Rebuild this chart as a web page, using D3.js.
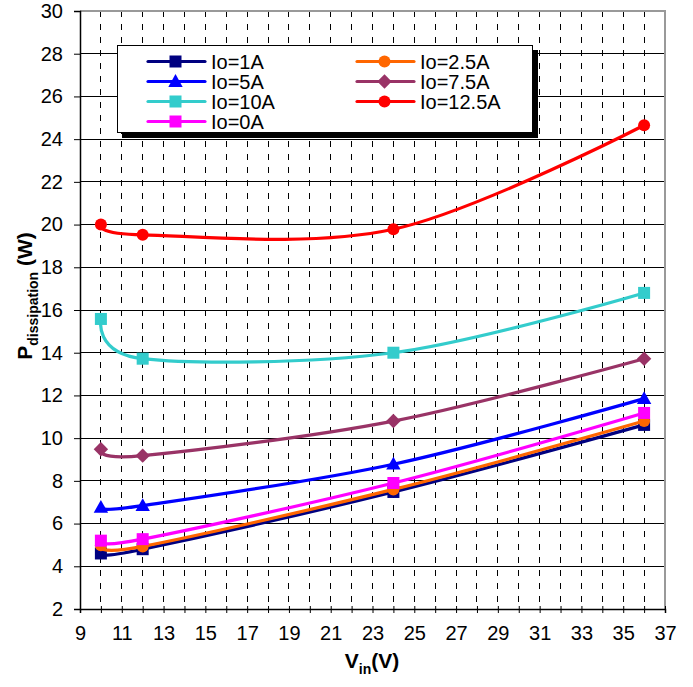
<!DOCTYPE html>
<html><head><meta charset="utf-8">
<script src="https://cdn.jsdelivr.net/npm/d3@7"></script>
<style>body{margin:0;background:#fff}svg{display:block}text{font-family:"Liberation Sans",Arial,sans-serif}</style>
</head><body>
<script>
const vin = [10, 12, 24, 36];
const io1A   = [4.6, 4.8, 7.48, 10.62];
const io2_5A = [4.98, 4.93, 7.6, 10.8];
const io5A   = [6.76, 6.84, 8.78, 11.85];
const io7_5A = [9.48, 9.18, 10.8, 13.72];
const io10A  = [15.58, 13.72, 14.0, 16.8];
const io12_5A= [20.0, 19.52, 19.78, 24.65];
const io0A   = [5.2, 5.27, 7.9, 11.18];
const seriesNames = ["Io=1A","Io=2.5A","Io=5A","Io=7.5A","Io=10A","Io=12.5A","Io=0A"];
const seriesColors = ["#000080","#FF6600","#0000FF","#993366","#33CCCC","#FF0000","#FF00FF"];
const seriesMarkers = ["square","circle","triangle","diamond","square","circle","square"];
const seriesValues = [io1A, io2_5A, io5A, io7_5A, io10A, io12_5A, io0A];
const xTicks = d3.range(9, 38, 2);
const xMinor = d3.range(9, 38, 1);
const yTicks = d3.range(2, 31, 2);

const W = 693, H = 687;
const svg = d3.select("body").append("svg").attr("width", W).attr("height", H);
const x = d3.scaleLinear().domain([9, 37]).range([80, 665]);
const y = d3.scaleLinear().domain([2, 30]).range([609, 11]);

// vertical dashed grid
svg.append("g").selectAll("line").data(xMinor.filter(v => v > 9 && v < 37)).join("line")
  .attr("x1", d => x(d)).attr("x2", d => x(d)).attr("y1", y(30)).attr("y2", y(2))
  .attr("stroke", "#000").attr("stroke-width", 1).attr("stroke-dasharray", "6,7")
  .attr("shape-rendering", "crispEdges");
// horizontal grid
svg.append("g").selectAll("line").data(yTicks.filter(v => v > 2 && v < 30)).join("line")
  .attr("x1", x(9)).attr("x2", x(37)).attr("y1", d => y(d)).attr("y2", d => y(d))
  .attr("stroke", "#000").attr("stroke-width", 1).attr("shape-rendering", "crispEdges");

// frame top/right gray
svg.append("line").attr("x1", x(9)).attr("x2", x(37) + 1).attr("y1", y(30)).attr("y2", y(30))
  .attr("stroke", "#999").attr("stroke-width", 2);
svg.append("line").attr("x1", x(37)).attr("x2", x(37)).attr("y1", y(30)).attr("y2", y(2))
  .attr("stroke", "#999").attr("stroke-width", 2);

// axes
const xAxis = d3.axisBottom(x).tickValues(xMinor).tickSize(4)
  .tickFormat(d => (d % 2 === 1 ? d : ""));
const gx = svg.append("g").attr("transform", `translate(0,${y(2)})`).call(xAxis);
gx.select(".domain").attr("stroke", "#000").attr("stroke-width", 1.5);
gx.selectAll(".tick line").attr("stroke", "#000").attr("y1", -3);
gx.selectAll(".tick text").attr("font-size", 20).attr("fill", "#000").attr("dy", 0).attr("y", 31)
  .attr("font-family", '"Liberation Sans",Arial,sans-serif');

const yAxis = d3.axisLeft(y).tickValues(yTicks).tickSize(6).tickPadding(10);
const gy = svg.append("g").attr("transform", `translate(${x(9)},0)`).call(yAxis);
gy.select(".domain").attr("stroke", "#000").attr("stroke-width", 1.5);
gy.selectAll(".tick line").attr("stroke", "#000");
gy.selectAll(".tick text").attr("font-size", 20).attr("fill", "#000").attr("x", -17)
  .attr("font-family", '"Liberation Sans",Arial,sans-serif');

// markers
function drawMarker(g, type, cx, cy, color, s) {
  if (type === "square") {
    g.append("rect").attr("x", cx - s/2).attr("y", cy - s/2).attr("width", s).attr("height", s).attr("fill", color);
  } else if (type === "circle") {
    g.append("circle").attr("cx", cx).attr("cy", cy).attr("r", s/2).attr("fill", color);
  } else if (type === "triangle") {
    g.append("path").attr("d", `M${cx},${cy - s*0.62}L${cx + s*0.6},${cy + s*0.45}L${cx - s*0.6},${cy + s*0.45}Z`).attr("fill", color);
  } else if (type === "diamond") {
    g.append("path").attr("d", `M${cx},${cy - s*0.6}L${cx + s*0.6},${cy}L${cx},${cy + s*0.6}L${cx - s*0.6},${cy}Z`).attr("fill", color);
  }
}

const line = d3.line().x(d => x(d[0])).y(d => y(d[1])).curve(d3.curveCatmullRom.alpha(0));
const plot = svg.append("g");
seriesValues.forEach((vals, i) => {
  const pts = vin.map((v, j) => [v, vals[j]]);
  const g = plot.append("g");
  g.append("path").attr("d", line(pts)).attr("fill", "none")
    .attr("stroke", seriesColors[i]).attr("stroke-width", 3.2);
  pts.forEach(p => drawMarker(g, seriesMarkers[i], x(p[0]), y(p[1]), seriesColors[i], 12));
});

// legend
const lg = svg.append("g");
lg.append("rect").attr("x", 122).attr("y", 50).attr("width", 416).attr("height", 88).attr("fill", "#000");
lg.append("rect").attr("x", 117.5).attr("y", 45.5).attr("width", 415).attr("height", 87)
  .attr("fill", "#fff").attr("stroke", "#000").attr("stroke-width", 1);
const legendPos = [[0,0],[1,0],[0,1],[1,1],[0,2],[1,2],[0,3]];
seriesNames.forEach((name, i) => {
  const [c, r] = legendPos[i];
  const lx0 = c === 0 ? 148 : 357;
  const ly = 61.5 + r * 20;
  lg.append("line").attr("x1", lx0).attr("x2", lx0 + 57).attr("y1", ly).attr("y2", ly)
    .attr("stroke", seriesColors[i]).attr("stroke-width", 3.2).attr("stroke-linecap", "round");
  drawMarker(lg, seriesMarkers[i], lx0 + 27.5, ly, seriesColors[i], 12);
  lg.append("text").attr("x", lx0 + 63).attr("y", ly + 7.2).attr("font-size", 20).attr("fill", "#000").text(name);
});

// axis titles
const xt = svg.append("text").attr("x", 372).attr("y", 668).attr("text-anchor", "middle")
  .attr("font-size", 21).attr("font-weight", "bold").attr("fill", "#000");
xt.append("tspan").text("V");
xt.append("tspan").attr("font-size", 14).attr("dy", 6).text("in");
xt.append("tspan").attr("dy", -6).text("(V)");

const yt = svg.append("text").attr("transform", "translate(32,296) rotate(-90)").attr("text-anchor", "middle")
  .attr("font-size", 21).attr("font-weight", "bold").attr("fill", "#000");
yt.append("tspan").text("P");
yt.append("tspan").attr("font-size", 14).attr("dy", 6).text("dissipation");
yt.append("tspan").attr("dy", -6).text(" (W)");
</script>
</body></html>
